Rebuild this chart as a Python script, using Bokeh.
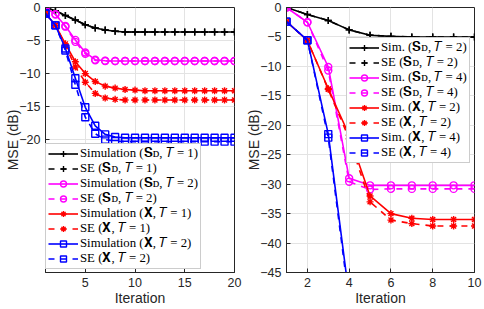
from bokeh.plotting import figure
from bokeh.models import Legend, LegendItem, Range1d, FixedTicker
from bokeh.layouts import row
from bokeh.embed import file_html
from bokeh.resources import INLINE

# ---------------- data: left panel ----------------
it_left = list(range(1, 21))
sim_sd_t1 = [0, -0.5, -1.2, -1.9, -2.6, -3.1, -3.4, -3.6, -3.7, -3.7, -3.7, -3.7, -3.7, -3.7, -3.7, -3.7, -3.7, -3.7, -3.7, -3.7]
se_sd_t1 = [0, -0.5, -1.2, -1.9, -2.6, -3.1, -3.4, -3.6, -3.7, -3.7, -3.7, -3.7, -3.7, -3.7, -3.7, -3.7, -3.7, -3.7, -3.7, -3.7]
sim_sd_t2 = [0, -1.05, -2.8, -4.9, -6.8, -7.9, -8.05, -8.1, -8.1, -8.1, -8.1, -8.1, -8.1, -8.1, -8.1, -8.1, -8.1, -8.1, -8.1, -8.1]
se_sd_t2 = [0, -1.0, -2.9, -5.2, -7.0, -8.0, -8.1, -8.1, -8.1, -8.1, -8.1, -8.1, -8.1, -8.1, -8.1, -8.1, -8.1, -8.1, -8.1, -8.1]
sim_x_t1 = [-0.9, -2.7, -5.5, -8.2, -10.0, -11.2, -11.9, -12.2, -12.4, -12.5, -12.6, -12.6, -12.6, -12.6, -12.6, -12.6, -12.6, -12.6, -12.6, -12.6]
se_x_t1 = [-0.9, -2.7, -5.7, -9.0, -11.3, -13.0, -13.7, -13.9, -14.0, -14.0, -14.0, -14.0, -14.0, -14.0, -14.0, -14.0, -14.0, -14.0, -14.0, -14.0]
sim_x_t2 = [-0.9, -2.7, -6.2, -10.7, -15.1, -17.9, -19.2, -19.6, -19.7, -19.7, -19.7, -19.7, -19.7, -19.7, -19.7, -19.7, -19.7, -19.7, -19.7, -19.7]
se_x_t2 = [-0.9, -2.7, -6.5, -11.7, -16.6, -19.1, -20.0, -20.2, -20.3, -20.3, -20.3, -20.3, -20.3, -20.3, -20.3, -20.3, -20.3, -20.3, -20.3, -20.3]

# ---------------- data: right panel ----------------
it_right = list(range(1, 11))
r_sim_sd_t2 = [0, -1.2, -2.2, -3.8, -4.7, -4.9, -5.0, -5.0, -5.0, -5.0]
r_se_sd_t2 = [0, -1.2, -2.2, -3.8, -4.7, -4.9, -5.0, -5.0, -5.0, -5.0]
r_sim_sd_t4 = [0, -2.5, -10.1, -29.0, -30.2, -30.2, -30.2, -30.2, -30.2, -30.2]
r_se_sd_t4 = [0, -2.5, -10.7, -29.6, -30.9, -30.8, -30.8, -30.8, -30.8, -30.8]
r_sim_x_t2 = [-2.4, -5.6, -13.8, -21.7, -32.0, -35.0, -35.8, -36.0, -36.0, -36.0]
r_se_x_t2 = [-2.4, -5.6, -13.9, -22.3, -33.0, -36.1, -36.7, -37.1, -37.1, -37.1]
it_right_x4 = [1, 2, 3, 4]
r_sim_x_t4 = [-2.4, -5.55, -21.5, -49.1]
r_se_x_t4 = [-2.4, -5.55, -22.1, -50.0]

labels_left = [
    "Simulation (𝐒ᴅ, 𝑇 = 1)", "SE (𝐒ᴅ, 𝑇 = 1)",
    "Simulation (𝐒ᴅ, 𝑇 = 2)", "SE (𝐒ᴅ, 𝑇 = 2)",
    "Simulation (𝐗, 𝑇 = 1)", "SE (𝐗, 𝑇 = 1)",
    "Simulation (𝐗, 𝑇 = 2)", "SE (𝐗, 𝑇 = 2)",
]
labels_right = [
    "Sim. (𝐒ᴅ, 𝑇 = 2)", "SE (𝐒ᴅ, 𝑇 = 2)",
    "Sim. (𝐒ᴅ, 𝑇 = 4)", "SE (𝐒ᴅ, 𝑇 = 4)",
    "Sim. (𝐗, 𝑇 = 2)", "SE (𝐗, 𝑇 = 2)",
    "Sim. (𝐗, 𝑇 = 4)", "SE (𝐗, 𝑇 = 4)",
]

colors = ["#000000", "#000000", "#ff00ff", "#ff00ff", "#ff0000", "#ff0000", "#0000ff", "#0000ff"]
markers = ["cross", "cross", "circle", "circle", "asterisk", "asterisk", "square", "square"]
dashes = ["solid", "dashed", "solid", "dashed", "solid", "dashed", "solid", "dashed"]

AXIS_FONT = "Liberation Sans"
TXT = "#262626"


def make_fig(xr, yr, xticks, yticks, width, min_left, min_right):
    p = figure(output_backend="svg", toolbar_location=None,
               width=width, height=308,
               x_range=Range1d(*xr), y_range=Range1d(*yr),
               min_border_left=min_left, min_border_right=min_right,
               min_border_top=7, min_border_bottom=36)
    p.background_fill_color = "white"
    p.border_fill_color = "white"
    p.outline_line_color = TXT
    p.outline_line_width = 1
    p.xaxis.ticker = FixedTicker(ticks=xticks)
    p.yaxis.ticker = FixedTicker(ticks=yticks)
    for ax in (p.xaxis[0], p.yaxis[0]):
        ax.major_tick_in = 4
        ax.major_tick_out = 0
        ax.minor_tick_line_color = None
        ax.axis_line_color = TXT
        ax.major_tick_line_color = TXT
        ax.major_label_text_font = AXIS_FONT
        ax.major_label_text_font_size = "12.5px"
        ax.major_label_text_color = TXT
        ax.axis_label_text_font = AXIS_FONT
        ax.axis_label_text_font_size = "14px"
        ax.axis_label_text_font_style = "normal"
        ax.axis_label_text_color = TXT
    p.xaxis.major_label_standoff = 5
    p.yaxis.major_label_standoff = 5
    p.xaxis.axis_label = "Iteration"
    p.yaxis.axis_label = "MSE (dB)"
    p.xaxis.axis_label_standoff = 0
    p.yaxis.axis_label_standoff = -5
    p.xgrid.grid_line_color = "#e3e3e3"
    p.ygrid.grid_line_color = "#e3e3e3"
    p.xgrid.ticker = FixedTicker(ticks=xticks)
    p.ygrid.ticker = FixedTicker(ticks=yticks)
    return p


def add_series(p, xs_list, ys_list, labels):
    items = []
    for i, (xs, ys) in enumerate(zip(xs_list, ys_list)):
        ln = p.line(xs, ys, line_color=colors[i], line_width=1.6, line_dash=dashes[i])
        mk = p.scatter(xs, ys, marker=markers[i], size=7,
                       line_color=colors[i], fill_color=None, line_width=1.4)
        items.append(LegendItem(label=labels[i], renderers=[ln, mk]))
    return items


def style_legend(lg):
    lg.label_text_font = "Liberation Serif"
    lg.label_text_font_size = "12.8px"
    lg.label_text_color = "#000000"
    lg.label_height = 15
    lg.glyph_height = 15
    lg.glyph_width = 30
    lg.label_standoff = 2
    lg.spacing = 0
    lg.padding = 2
    lg.margin = 0
    lg.border_line_color = "#9a9a9a"
    lg.border_line_width = 1.5
    lg.background_fill_color = "white"
    lg.background_fill_alpha = 1.0


# ---------------- left figure ----------------
p1 = make_fig((1, 20), (-40.1, 0), [5, 10, 15, 20], [-20, -15, -10, -5, 0], 243, 45, 9)
items1 = add_series(p1, [it_left] * 8,
                    [sim_sd_t1, se_sd_t1, sim_sd_t2, se_sd_t2, sim_x_t1, se_x_t1, sim_x_t2, se_x_t2],
                    labels_left)
lg1 = Legend(items=items1, location=(0, 3))
style_legend(lg1)
p1.add_layout(lg1, "center")

# ---------------- right figure ----------------
p2 = make_fig((1, 10), (-45, 0), [2, 4, 6, 8, 10], [-45, -40, -35, -30, -25, -20, -15, -10, -5, 0], 241, 41, 10)
items2 = add_series(p2, [it_right, it_right, it_right, it_right, it_right, it_right, it_right_x4, it_right_x4],
                    [r_sim_sd_t2, r_se_sd_t2, r_sim_sd_t4, r_se_sd_t4, r_sim_x_t2, r_se_x_t2, r_sim_x_t4, r_se_x_t4],
                    labels_right)
lg2 = Legend(items=items2, location=(60, 109))
style_legend(lg2)
p2.add_layout(lg2, "center")

layout = row(p1, p2, spacing=0)
open("out.html", "w").write(file_html(layout, INLINE))
